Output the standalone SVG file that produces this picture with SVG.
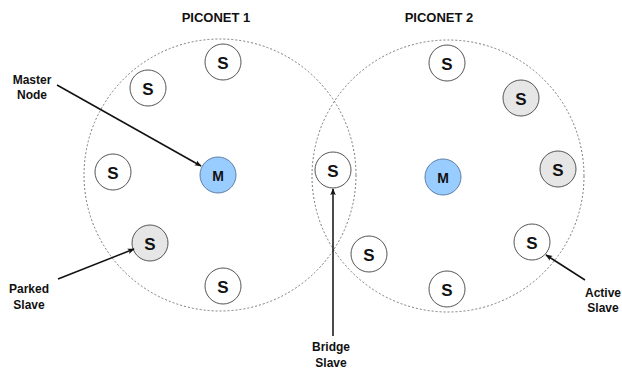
<svg xmlns="http://www.w3.org/2000/svg" width="622" height="369" viewBox="0 0 622 369">
  <style>
    .range { fill: none; stroke: #7a7a7a; stroke-width: 1; stroke-dasharray: 2 2; }
    .node circle { stroke: #555; stroke-width: 1; }
    .slave circle { fill: #ffffff; }
    .parked circle { fill: #e6e6e6; }
    .master circle { fill: #99ccff; stroke: #5f7fa8; }
    .node text { font-family: "Liberation Sans", Arial, sans-serif; font-weight: bold; font-size: 17px; fill: #111; text-anchor: middle; dominant-baseline: central; }
    .master text { font-size: 14px; }
    .title { font-family: "Liberation Sans", Arial, sans-serif; font-weight: bold; font-size: 13px; fill: #111; text-anchor: middle; }
    .label { font-family: "Liberation Sans", Arial, sans-serif; font-weight: bold; font-size: 12px; fill: #111; text-anchor: middle; }
    .conn { stroke: #111; stroke-width: 1.5; fill: none; marker-end: url(#arrow); }
  </style>
  <defs>
    <marker id="arrow" viewBox="0 0 10 10" refX="9" refY="5" markerWidth="7" markerHeight="7" orient="auto" markerUnits="userSpaceOnUse">
      <path d="M0,1 L10,5 L0,9 L2.5,5 Z" fill="#111"/>
    </marker>
  </defs>
  <rect width="622" height="369" fill="#ffffff"/>

  <!-- piconet ranges -->
  <g id="piconet1">
    <circle class="range" cx="220" cy="175" r="136"/>
    <text class="title" x="216" y="22">PICONET 1</text>
  </g>
  <g id="piconet2">
    <circle class="range" cx="448" cy="176" r="136"/>
    <text class="title" x="439" y="22">PICONET 2</text>
  </g>

  <!-- piconet 1 devices -->
  <g id="p1-s-top" class="node slave"><circle cx="223" cy="62" r="18"/><text x="223" y="63">S</text></g>
  <g id="p1-s-upper" class="node slave"><circle cx="148" cy="88" r="18"/><text x="148" y="89">S</text></g>
  <g id="p1-s-left" class="node slave"><circle cx="113" cy="172" r="18"/><text x="113" y="173">S</text></g>
  <g id="p1-master" class="node master"><circle cx="218" cy="175" r="18"/><text x="218" y="176">M</text></g>
  <g id="p1-s-parked" class="node parked"><circle cx="150" cy="243" r="18"/><text x="150" y="244">S</text></g>
  <g id="p1-s-bottom" class="node slave"><circle cx="223" cy="286" r="18"/><text x="223" y="287">S</text></g>

  <!-- shared device -->
  <g id="bridge-slave" class="node slave"><circle cx="333" cy="170" r="18"/><text x="333" y="171">S</text></g>

  <!-- piconet 2 devices -->
  <g id="p2-s-top" class="node slave"><circle cx="447" cy="63" r="18"/><text x="447" y="64">S</text></g>
  <g id="p2-s-parked1" class="node parked"><circle cx="521" cy="98" r="18"/><text x="521" y="99">S</text></g>
  <g id="p2-s-parked2" class="node parked"><circle cx="558" cy="169" r="18"/><text x="558" y="170">S</text></g>
  <g id="p2-master" class="node master"><circle cx="443" cy="177" r="18"/><text x="443" y="178">M</text></g>
  <g id="p2-s-left" class="node slave"><circle cx="369" cy="254" r="18"/><text x="369" y="255">S</text></g>
  <g id="p2-s-bottom" class="node slave"><circle cx="447" cy="289" r="18"/><text x="447" y="290">S</text></g>
  <g id="p2-s-active" class="node slave"><circle cx="532" cy="242" r="18"/><text x="532" y="243">S</text></g>

  <!-- callout labels -->
  <g id="label-master">
    <text class="label" x="32" y="84">Master</text>
    <text class="label" x="32" y="99">Node</text>
  </g>
  <g id="label-parked">
    <text class="label" x="29" y="293">Parked</text>
    <text class="label" x="29" y="309">Slave</text>
  </g>
  <g id="label-bridge">
    <text class="label" x="331" y="351">Bridge</text>
    <text class="label" x="331" y="367">Slave</text>
  </g>
  <g id="label-active">
    <text class="label" x="603" y="297">Active</text>
    <text class="label" x="603" y="312">Slave</text>
  </g>

  <!-- connectors -->
  <g id="connectors">
    <line class="conn" x1="57" y1="85" x2="201" y2="166"/>
    <line class="conn" x1="58" y1="279" x2="134" y2="249"/>
    <line class="conn" x1="333" y1="336" x2="333" y2="189"/>
    <line class="conn" x1="585" y1="280" x2="546" y2="255"/>
  </g>
</svg>
